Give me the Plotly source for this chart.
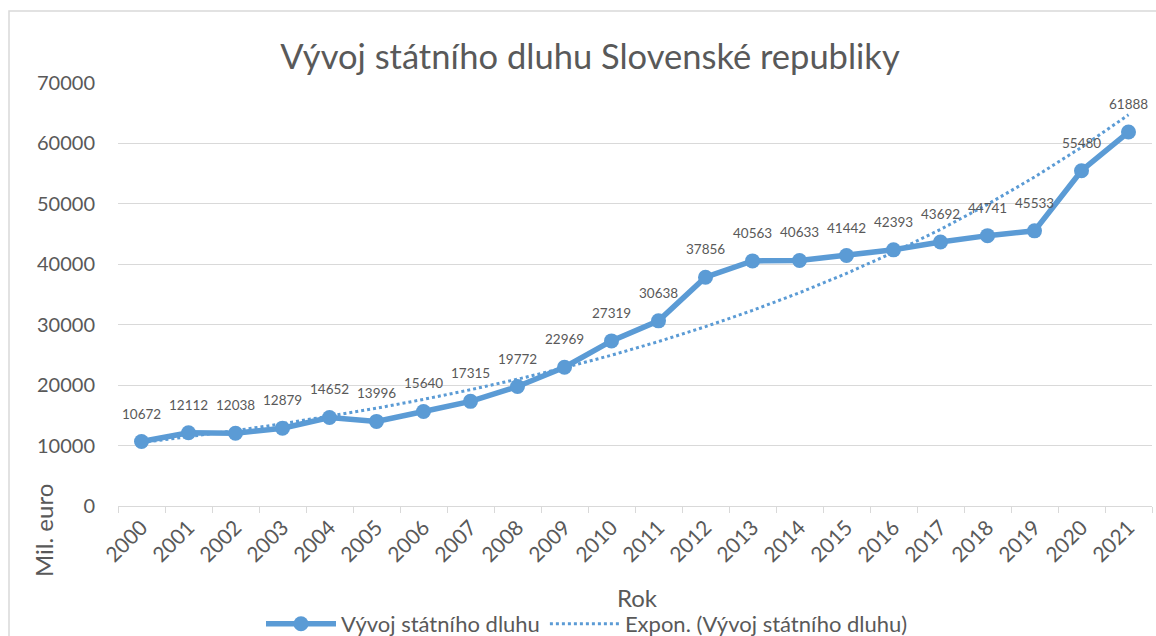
import numpy as np
import plotly.graph_objects as go

years = [str(y) for y in range(2000, 2022)]
debt = [10672, 12112, 12038, 12879, 14652, 13996, 15640, 17315, 19772, 22969,
        27319, 30638, 37856, 40563, 40633, 41442, 42393, 43692, 44741, 45533,
        55480, 61888]
y_ticks = [0, 10000, 20000, 30000, 40000, 50000, 60000, 70000]

title_text = "Vývoj státního dluhu Slovenské republiky"
series_name = "Vývoj státního dluhu"
trend_name = "Expon. (Vývoj státního dluhu)"

# Exponential trendline (Excel style: least squares on ln(y), x = 1..n)
xi = np.arange(1, len(debt) + 1)
m, c = np.polyfit(xi, np.log(debt), 1)
trend = np.exp(c) * np.exp(m * xi)

BLUE = "#5B9BD5"
TXT = "#595959"
GRID = "#D9D9D9"
FONT = "Lato, Calibri, Carlito, sans-serif"

fig = go.Figure()
fig.add_trace(go.Scatter(
    x=years, y=trend, mode="lines", name=trend_name,
    line=dict(color=BLUE, width=3, dash="dot"), hoverinfo="skip",
))
fig.add_trace(go.Scatter(
    x=years, y=debt, mode="lines+markers", name=series_name,
    line=dict(color=BLUE, width=5.5),
    marker=dict(color=BLUE, size=15), cliponaxis=False,
))

L, R, T, B = 118, 1152, 83, 506
pw, ph = R - L, B - T

annotations = [
    dict(x=i, y=v, text=str(v), xref="x", yref="y", showarrow=False,
         yshift=28, xanchor="center", yanchor="middle",
         font=dict(size=13.5, color=TXT, family=FONT))
    for i, v in enumerate(debt)
]
annotations += [
    dict(text="Rok", x=(637 - L) / pw, y=(B - 597) / ph, xref="paper", yref="paper",
         xanchor="center", yanchor="middle", showarrow=False,
         font=dict(size=24, color=TXT, family=FONT)),
    dict(text="Mil. euro", x=(43 - L) / pw, y=(B - 531) / ph, xref="paper", yref="paper",
         xanchor="center", yanchor="middle", showarrow=False, textangle=-90,
         font=dict(size=24, color=TXT, family=FONT)),
]

fig.update_layout(
    width=1156, height=636,
    margin=dict(l=L, r=1156 - R, t=T, b=636 - B, autoexpand=False),
    paper_bgcolor="white", plot_bgcolor="white",
    font=dict(family=FONT, color=TXT),
    title=dict(text=title_text, x=590 / 1156, xanchor="center",
               y=1 - 57 / 636, yanchor="middle",
               font=dict(size=34.5, color=TXT, family=FONT)),
    showlegend=True,
    legend=dict(orientation="h", x=(587 - L) / pw, xanchor="center",
                y=(B - 624) / ph, yanchor="middle",
                font=dict(size=22, color=TXT, family=FONT),
                traceorder="reversed", itemwidth=70),
    xaxis=dict(type="category", range=[-0.5, 21.5], tickangle=-45,
               tickfont=dict(size=21, color=TXT, family=FONT), automargin=False,
               showgrid=False, showline=True, linecolor=GRID, linewidth=1,
               ticks="outside", tickson="boundaries", ticklen=6, tickcolor=GRID,
               zeroline=False),
    yaxis=dict(range=[0, 70000], tickvals=y_ticks, tickformat="d", automargin=False,
               tickfont=dict(size=20, color=TXT, family=FONT),
               showgrid=True, gridcolor=GRID, gridwidth=1,
               zeroline=False, showline=False, ticks="", ticklabelstandoff=22),
    annotations=annotations,
    shapes=[
        dict(type="rect", xref="paper", yref="paper",
             x0=(9 - L) / pw, x1=(1170 - L) / pw,
             y0=(B - 660) / ph, y1=(B - 11) / ph,
             line=dict(color=GRID, width=1.5), fillcolor="rgba(0,0,0,0)", layer="below"),
    ],
)

fig.write_html(
    "out.html",
    config={"displayModeBar": False},
    post_script="document.body.style.margin='0';document.body.style.overflow='hidden';",
)
